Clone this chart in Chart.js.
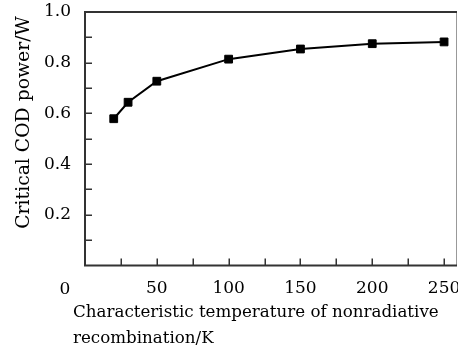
<!DOCTYPE html>
<html>
<head>
<meta charset="utf-8">
<script src="https://cdn.jsdelivr.net/npm/chart.js@4/dist/chart.umd.min.js"></script>
<style>
html,body{margin:0;padding:0;background:#fff;}
#wrap{width:458px;height:351px;position:relative;}
</style>
</head>
<body>
<div id="wrap"><canvas id="c" width="458" height="351"></canvas></div>
<script>
// Data
const temperatures = [20, 30, 50, 100, 150, 200, 250];
const criticalPower = [0.579, 0.644, 0.727, 0.814, 0.854, 0.875, 0.882];
const xTickValues = [25, 50, 75, 100, 125, 150, 175, 200, 225, 250];
const xLabelValues = [50, 100, 150, 200, 250];
const yTickValues = [0.1, 0.2, 0.3, 0.4, 0.5, 0.6, 0.7, 0.8, 0.9];
const yLabelValues = [0.2, 0.4, 0.6, 0.8, 1.0];
const yTitle = 'Critical COD power/W';
const xTitleLines = ['Characteristic temperature of nonradiative', 'recombination/K'];
const originLabel = '0';

const FONT = '"DejaVu Serif", serif';

const decor = {
  id: 'decor',
  afterDraw(chart) {
    const ctx = chart.ctx;
    const a = chart.chartArea;
    const xs = chart.scales.x, ys = chart.scales.y;
    ctx.save();
    // frame
    ctx.strokeStyle = '#999';
    ctx.lineWidth = 1;
    ctx.beginPath();
    ctx.moveTo(a.right - 0.5, a.top); ctx.lineTo(a.right - 0.5, a.bottom);
    ctx.stroke();
    ctx.strokeStyle = '#333';
    ctx.lineWidth = 2;
    ctx.beginPath();
    ctx.moveTo(a.right, a.top); ctx.lineTo(a.left, a.top);
    ctx.lineTo(a.left, a.bottom); ctx.lineTo(a.right, a.bottom);
    ctx.stroke();
    // inward ticks
    ctx.lineWidth = 1.5;
    ctx.beginPath();
    xTickValues.forEach(v => {
      const px = Math.round(xs.getPixelForValue(v)) + 0.25;
      ctx.moveTo(px, a.bottom); ctx.lineTo(px, a.bottom - 7);
    });
    yTickValues.forEach(v => {
      const py = Math.round(ys.getPixelForValue(v)) + 0.25;
      ctx.moveTo(a.left, py); ctx.lineTo(a.left + 7, py);
    });
    ctx.stroke();
    // texts
    ctx.fillStyle = '#000';
    ctx.font = '17px ' + FONT;
    ctx.textAlign = 'center';
    ctx.textBaseline = 'alphabetic';
    ctx.fillText(originLabel, 65, 293.5);
    ctx.font = '16.7px ' + FONT;
    ctx.textAlign = 'left';
    ctx.fillText(xTitleLines[0], 73, 316.5);
    ctx.fillText(xTitleLines[1], 73, 342.5);
    ctx.save();
    ctx.font = '18.8px ' + FONT;
    ctx.translate(28.5, 122.5);
    ctx.rotate(-Math.PI / 2);
    ctx.textAlign = 'center';
    ctx.fillText(yTitle, 0, 0);
    ctx.restore();
    ctx.restore();
  }
};

new Chart(document.getElementById('c'), {
  type: 'line',
  data: {
    datasets: [{
      data: temperatures.map((t, i) => ({x: t, y: criticalPower[i]})),
      borderColor: '#000',
      backgroundColor: '#000',
      borderWidth: 2,
      tension: 0,
      pointStyle: 'rect',
      pointRadius: 5.5,
      pointBorderWidth: 1,
      pointBackgroundColor: '#000',
      pointBorderColor: '#000'
    }]
  },
  options: {
    responsive: false,
    animation: false,
    devicePixelRatio: 1,
    layout: {autoPadding: false, padding: {left: 0, right: 1, top: 12, bottom: 0}},
    plugins: {legend: {display: false}, tooltip: {enabled: false}},
    scales: {
      x: {
        type: 'linear',
        min: 0,
        max: 259,
        grid: {display: false},
        border: {display: false},
        afterBuildTicks: s => { s.ticks = xLabelValues.map(v => ({value: v})); },
        afterFit: s => {
          s.height = 351 - 265.5;
          s.paddingLeft = 0; s.paddingRight = 0; s.paddingTop = 0; s.paddingBottom = 0;
        },
        ticks: {
          color: '#000',
          font: {family: FONT, size: 17},
          padding: 5,
          maxRotation: 0,
          autoSkip: false,
          callback: v => String(v)
        }
      },
      y: {
        min: 0,
        max: 1,
        grid: {display: false},
        border: {display: false},
        afterBuildTicks: s => { s.ticks = yLabelValues.map(v => ({value: v})); },
        afterFit: s => {
          s.width = 85;
          s.paddingLeft = 0; s.paddingRight = 0; s.paddingTop = 0; s.paddingBottom = 0;
        },
        ticks: {
          color: '#000',
          font: {family: FONT, size: 17},
          padding: 6,
          autoSkip: false,
          callback: v => Number(v).toFixed(1)
        }
      }
    }
  },
  plugins: [decor]
});
</script>
</body>
</html>
